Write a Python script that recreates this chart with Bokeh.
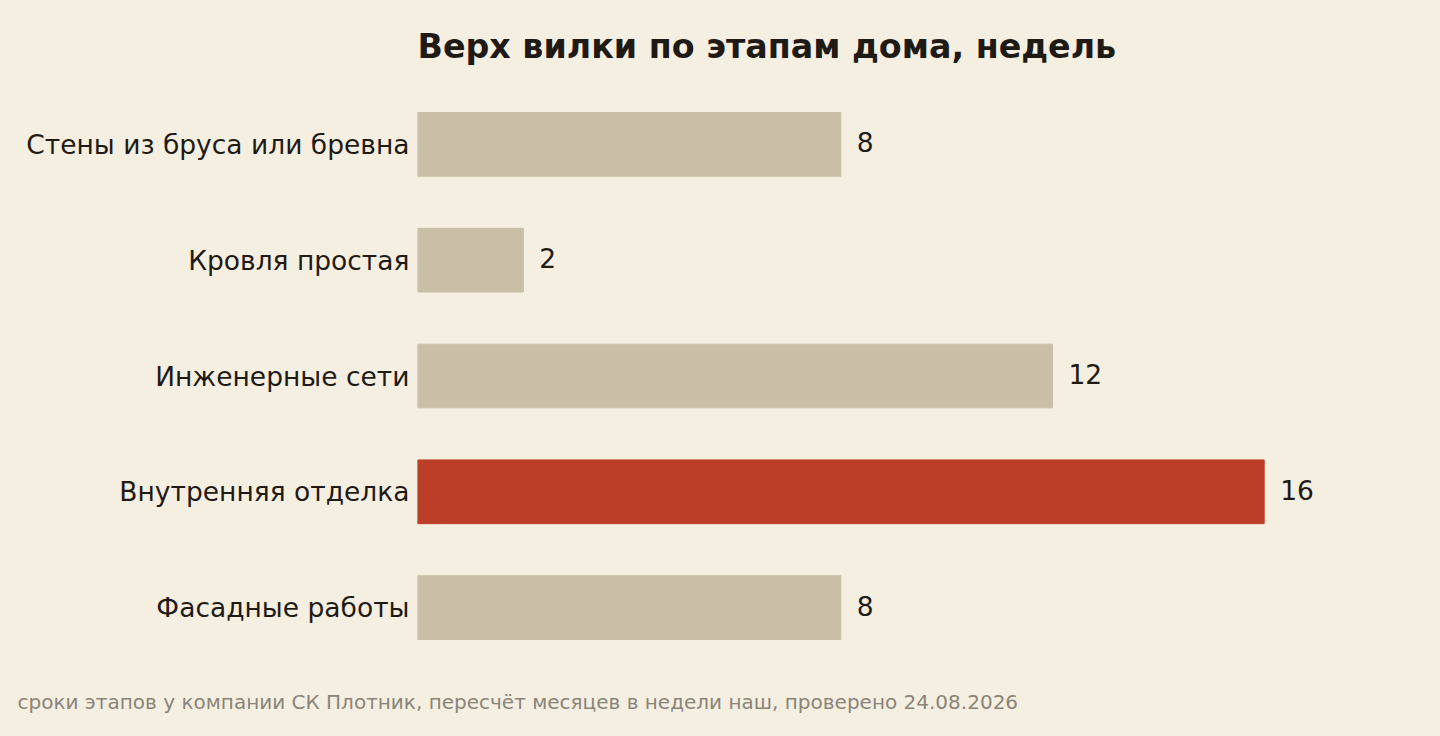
from bokeh.plotting import figure
from bokeh.models import ColumnDataSource, Range1d, Title
from bokeh.embed import file_html
from bokeh.resources import INLINE
from bokeh.core.properties import value

# data
stages = ["Стены из бруса или бревна", "Кровля простая", "Инженерные сети",
          "Внутренняя отделка", "Фасадные работы"]
weeks = [8, 2, 12, 16, 8]
highlight = "Внутренняя отделка"

title = "Верх вилки по этапам дома, недель"
note = "сроки этапов у компании СК Плотник, пересчёт месяцев в недели наш, проверено 24.08.2026"

BG = "#F5EFE2"
BAR = "#C9BFA7"
RED = "#BC3D28"
INK = "#1F1A14"
FONT = "DejaVu Sans"

src = ColumnDataSource(dict(
    stage=stages,
    weeks=weeks,
    label=[str(w) for w in weeks],
    color=[RED if s == highlight else BAR for s in stages],
))

p = figure(y_range=list(reversed(stages)), x_range=Range1d(0, 19.2),
           width=1440, height=736, title=title,
           output_backend="svg", toolbar_location=None,
           min_border_left=417, min_border_right=7,
           min_border_top=86, min_border_bottom=69)

p.background_fill_color = BG
p.border_fill_color = BG
p.outline_line_color = None

p.hbar(y="stage", right="weeks", height=0.55, color="color", source=src)
p.text(x="weeks", y="stage", text="label", source=src, x_offset=16, y_offset=-2,
       text_baseline="middle", text_font=value(FONT), text_font_size="26.5px",
       text_color=INK)

p.title.align = "left"
p.title.text_font = FONT
p.title.text_font_size = "33.3px"
p.title.text_font_style = "bold"
p.title.text_color = INK
p.title.standoff = 42

p.add_layout(Title(text=note, align="left", offset=-400, text_font=FONT,
                   text_font_size="20px", text_font_style="normal",
                   text_color="#8A8478", standoff=45), "below")

p.xaxis.visible = False
p.xgrid.grid_line_color = None
p.ygrid.grid_line_color = None
p.yaxis.axis_line_color = None
p.yaxis.major_tick_line_color = None
p.yaxis.minor_tick_line_color = None
p.yaxis.major_label_text_font = FONT
p.yaxis.major_label_text_font_size = "26.5px"
p.yaxis.major_label_text_color = INK
p.yaxis.major_label_standoff = 2

html = file_html(p, INLINE)
html = html.replace("<head>", "<head><style>html, body {margin: 0; background: %s;}</style>" % BG, 1)
open("out.html", "w").write(html)
